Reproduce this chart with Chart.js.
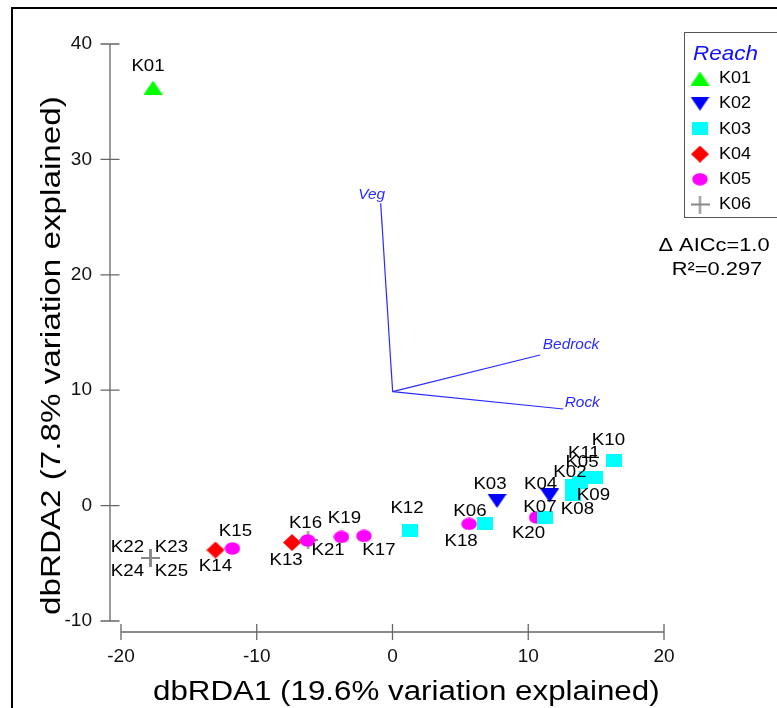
<!DOCTYPE html>
<html><head><meta charset="utf-8">
<script src="https://cdn.jsdelivr.net/npm/chart.js@4.4.1/dist/chart.umd.min.js"></script>
<style>html,body{margin:0;padding:0;background:#fff;overflow:hidden}#wrap{width:777px;height:708px}</style>
</head><body><div id="wrap"><canvas id="c" width="777" height="708"></canvas></div>
<script>
// ---------- DATA ----------
const siteNames = ['K01','K02','K03','K04','K05','K06','K07','K08','K09','K10','K11','K12','K13','K14','K15','K16','K17','K18','K19','K20','K21','K22','K23','K24','K25'];
const siteReach = ['K01','K03','K02','K02','K03','K03','K03','K03','K03','K03','K03','K03','K04','K04','K05','K05','K05','K05','K05','K05','K06','K06','K06','K06','K06'];
const dbRDA1 = [-17.64,13.81,7.70,11.57,14.33,6.81,11.23,13.26,13.26,16.28,14.92,1.29,-7.40,-13.04,-11.79,-6.26,-2.10,5.64,-3.76,10.61,-6.22,-17.83,-17.83,-17.83,-17.83];
const dbRDA2 = [36.23,2.04,0.40,0.88,2.44,-1.51,-0.99,0.92,1.78,3.95,2.44,-2.16,-3.20,-3.85,-3.72,-3.02,-2.63,-1.59,-2.72,-1.03,-2.98,-4.54,-4.54,-4.54,-4.54];
const reaches = ['K01','K02','K03','K04','K05','K06'];
const vectorNames = ['Veg','Bedrock','Rock'];
const vectorOrigin = [0.01, 9.87];
const vectorX = [-0.87, 10.87, 12.58];
const vectorY = [26.2, 13.05, 8.37];
const xTicks = [-20,-10,0,10,20];
const yTicks = [-10,0,10,20,30,40];
const xTitle = 'dbRDA1 (19.6% variation explained)';
const yTitle = 'dbRDA2 (7.8% variation explained)';
const legendTitle = 'Reach';
const statLines = ['\u0394 AICc=1.0', 'R\u00B2=0.297'];

// ---------- STYLE / LAYOUT ----------
const reachStyle = {
  K01:{shape:'triUp',color:'#00ff00'},
  K02:{shape:'triDown',color:'#0000ff'},
  K03:{shape:'square',color:'#00ffff'},
  K04:{shape:'diamond',color:'#ff0000'},
  K05:{shape:'ellipse',color:'#ff00ff'},
  K06:{shape:'plus',color:'#888888'}
};
// label offsets in pixels from the point (layout only)
const labelOffset = {
  K01:[-5,-21],K02:[-10,-10],K03:[-7,-17],K04:[-9,-11],K05:[-5,-15],K06:[-15,-12],K07:[-5,-10],
  K08:[5,14],K09:[21,10],K10:[-5,-20],K11:[-11,-24],K12:[-3,-22],K13:[-6,18],K14:[0,16],
  K15:[3,-17],K16:[-2,-17],K17:[15,14],K18:[-8,17],K19:[3,-19],K20:[-8,16],K21:[20,10],
  K22:[-23,-11],K23:[21,-11],K24:[-23,13],K25:[21,13]
};
const vecLabelOffset = {Veg:[-9,-8],Bedrock:[31,-10],Rock:[19,-5.5]};
const FONT = '"Liberation Sans", Arial, sans-serif';

function makeMarker(shape, color){
  const dims = {triUp:[19,14],triDown:[19,14],square:[16,13],diamond:[18,17],ellipse:[16,13],plus:[19,18]}[shape];
  const c = document.createElement('canvas');
  c.width = dims[0]; c.height = dims[1];
  const g = c.getContext('2d'); const w=c.width, h=c.height;
  g.fillStyle = color; g.strokeStyle = color; g.beginPath();
  switch(shape){
    case 'triUp': g.moveTo(w/2,0); g.lineTo(w,h); g.lineTo(0,h); g.closePath(); g.fill(); break;
    case 'triDown': g.moveTo(0,0); g.lineTo(w,0); g.lineTo(w/2,h); g.closePath(); g.fill(); break;
    case 'square': g.fillRect(0,0,w,h); break;
    case 'diamond': g.moveTo(w/2,0); g.lineTo(w,h/2); g.lineTo(w/2,h); g.lineTo(0,h/2); g.closePath(); g.fill(); break;
    case 'ellipse': g.ellipse(w/2,h/2,w/2-0.3,h/2-0.3,0,0,Math.PI*2); g.fill(); break;
    case 'plus': g.lineWidth=2; g.moveTo(0,h/2); g.lineTo(w,h/2); g.moveTo(w/2,0); g.lineTo(w/2,h); g.stroke(); break;
  }
  return c;
}
const markers = {};
reaches.forEach(r => markers[r] = makeMarker(reachStyle[r].shape, reachStyle[r].color));

function txt(ctx, s, x, y, font, color, align, sx, baseline){
  ctx.save();
  ctx.translate(x, y); ctx.scale(sx||1, 1);
  ctx.font = font; ctx.fillStyle = color; ctx.textAlign = align||'center'; ctx.textBaseline = baseline||'middle';
  ctx.fillText(s, 0, 0);
  ctx.restore();
}

// ---------- DATASETS ----------
const datasets = [];
vectorNames.forEach((n,i) => {
  datasets.push({type:'line', label:n, data:[{x:vectorOrigin[0],y:vectorOrigin[1]},{x:vectorX[i],y:vectorY[i]}],
    borderColor:'#2a2aff', borderWidth:1.2, pointRadius:0, fill:false, tension:0});
});
reaches.forEach(r => {
  const pts = [];
  siteNames.forEach((s,i) => { if (siteReach[i]===r) pts.push({x:dbRDA1[i], y:dbRDA2[i], site:s}); });
  datasets.push({type:'scatter', label:r, data:pts, pointStyle:markers[r], pointRadius:9, pointHoverRadius:9});
});

const decor = {
  id:'decor',
  beforeDraw(chart){
    const ctx = chart.ctx; ctx.save(); ctx.fillStyle='#fff'; ctx.fillRect(0,0,chart.width,chart.height); ctx.restore();
  },
  afterDatasetsDraw(chart){
    const {ctx, scales:{x,y}} = chart;
    // vector labels
    vectorNames.forEach((n,i) => {
      const o = vecLabelOffset[n];
      txt(ctx, n, x.getPixelForValue(vectorX[i])+o[0], y.getPixelForValue(vectorY[i])+o[1], 'italic 14px '+FONT, '#2a2aff', 'center', 1.1);
    });
    // site labels
    siteNames.forEach((s,i) => {
      const o = labelOffset[s];
      txt(ctx, s, x.getPixelForValue(dbRDA1[i])+o[0], y.getPixelForValue(dbRDA2[i])+o[1], '17px '+FONT, '#000', 'center', 1.1);
    });
  },
  afterDraw(chart){
    const {ctx, chartArea:a, scales:{x,y}} = chart;
    ctx.save();
    // outer frame
    ctx.strokeStyle='#000'; ctx.lineWidth=2; ctx.strokeRect(12,8,820,820);
    // axes (offset from data area)
    const ax = a.left-11, ay = a.bottom+11;
    ctx.strokeStyle='#666'; ctx.lineWidth=1.3; ctx.beginPath();
    ctx.moveTo(ax, y.getPixelForValue(yTicks[yTicks.length-1])); ctx.lineTo(ax, y.getPixelForValue(yTicks[0]));
    yTicks.forEach(t => { const p=y.getPixelForValue(t); ctx.moveTo(ax-9.5,p); ctx.lineTo(ax+9.5,p); });
    ctx.moveTo(x.getPixelForValue(xTicks[0]), ay); ctx.lineTo(x.getPixelForValue(xTicks[xTicks.length-1]), ay);
    xTicks.forEach(t => { const p=x.getPixelForValue(t); ctx.moveTo(p,ay-8); ctx.lineTo(p,ay+8); });
    ctx.stroke();
    // axis titles
    txt(ctx, xTitle, 153, 700, '27px '+FONT, '#000', 'left', 1.16, 'alphabetic');
    ctx.save(); ctx.translate(60, 615); ctx.rotate(-Math.PI/2);
    txt(ctx, yTitle, 0, 0, '27px '+FONT, '#000', 'left', 1.23, 'alphabetic');
    ctx.restore();
    // legend box
    ctx.strokeStyle='#555'; ctx.lineWidth=1; ctx.strokeRect(684.5,32.5,120,185);
    txt(ctx, legendTitle, 693, 54, 'italic 21px '+FONT, '#1010ff', 'left', 1.07);
    reaches.forEach((r,i) => {
      const cy = 78.5 + i*25.2;
      const m = markers[r];
      ctx.drawImage(m, 700 - m.width/2, cy - m.height/2);
      txt(ctx, r, 719, cy, '17px '+FONT, '#000', 'left', 1.06);
    });
    // stats
    txt(ctx, statLines[0], 714, 245.5, '19px '+FONT, '#000', 'center', 1.15);
    txt(ctx, statLines[1], 717, 269.5, '19px '+FONT, '#000', 'center', 1.15);
    ctx.restore();
  }
};

new Chart(document.getElementById('c'), {
  data:{datasets},
  options:{
    responsive:false, animation:false, clip:false,
    layout:{padding:{left:0, top:44, right:113, bottom:0}},
    plugins:{legend:{display:false}, tooltip:{enabled:false}, title:{display:false}},
    scales:{
      x:{type:'linear', min:-20, max:20, position:'bottom',
         afterBuildTicks(s){ s.ticks = xTicks.map(v=>({value:v})); },
         afterFit(s){ s.height = 87; },
         grid:{display:false, drawTicks:false}, border:{display:false},
         ticks:{padding:24, color:'#111', font:{family:FONT, size:19}}},
      y:{type:'linear', min:-10, max:40, position:'left',
         afterBuildTicks(s){ s.ticks = yTicks.map(v=>({value:v})); },
         afterFit(s){ s.width = 121; },
         grid:{display:false, drawTicks:false}, border:{display:false},
         ticks:{padding:29, color:'#111', font:{family:FONT, size:19}}}
    }
  },
  plugins:[decor]
});
</script></body></html>
